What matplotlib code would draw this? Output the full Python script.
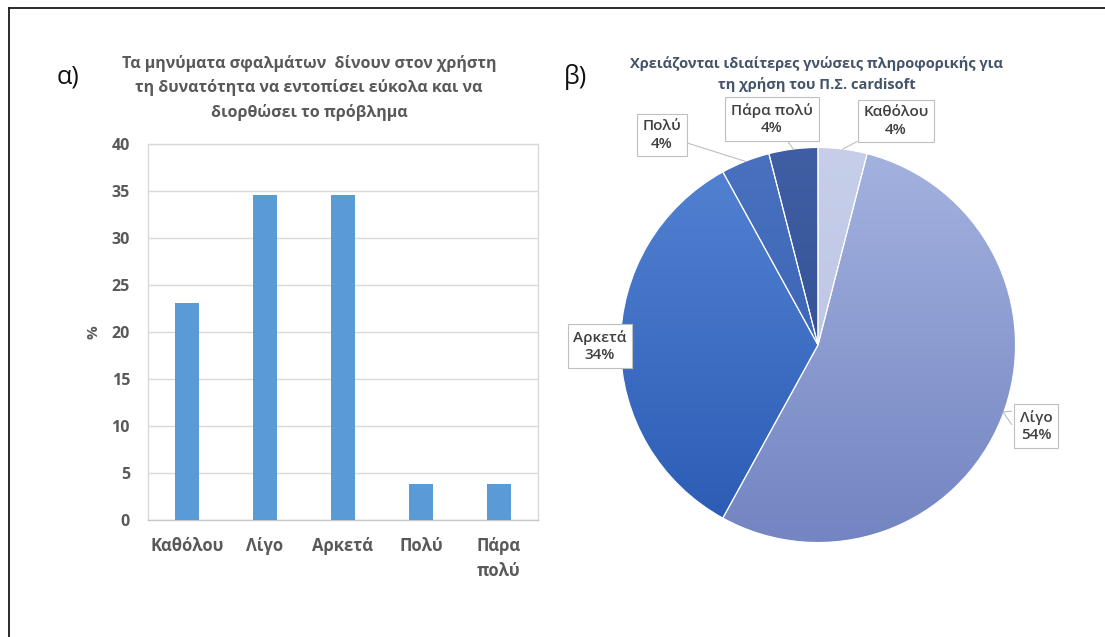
import matplotlib
matplotlib.use("Agg")
import matplotlib.pyplot as plt
import numpy as np
from matplotlib.lines import Line2D
from matplotlib.patches import Polygon
from matplotlib.colors import to_rgb

plt.rcParams['font.family'] = ['Open Sans', 'DejaVu Sans']

# ---- data ----
bar_categories = ["Καθόλου", "Λίγο", "Αρκετά", "Πολύ", "Πάρα\nπολύ"]
bar_values = [23.1, 34.6, 34.6, 3.8, 3.8]
bar_yticks = [0, 5, 10, 15, 20, 25, 30, 35, 40]
bar_title = "Τα μηνύματα σφαλμάτων  δίνουν στον χρήστη\nτη δυνατότητα να εντοπίσει εύκολα και να\nδιορθώσει το πρόβλημα"

pie_labels = ["Καθόλου", "Λίγο", "Αρκετά", "Πολύ", "Πάρα πολύ"]
pie_values = [4, 54, 34, 4, 4]
pie_title = "Χρειάζονται ιδιαίτερες γνώσεις πληροφορικής για\nτη χρήση του Π.Σ. cardisoft"

# vertical gradient (top, bottom) for each slice
pie_top_colors = ["#c6cee9", "#a3b2df", "#5483d3", "#4a71c0", "#405ea3"]
pie_bottom_colors = ["#b6c0e2", "#7385c2", "#2a5bb4", "#2f5dad", "#2b4a8c"]

W, H = 1105, 637
fig = plt.figure(figsize=(W / 100, H / 100), dpi=100)
fig.patch.set_facecolor("white")


def fx(px):
    return px / W


def fy(py):
    return 1 - py / H


# outer frame (top and left edges)
fig.add_artist(Line2D([fx(9), 1.0], [fy(8), fy(8)], color="#1a1a1a", lw=1.3,
                      transform=fig.transFigure))
fig.add_artist(Line2D([fx(9), fx(9)], [fy(8), 0.0], color="#1a1a1a", lw=1.3,
                      transform=fig.transFigure))

# ---- bar chart ----
ax = fig.add_axes([fx(148), fy(520), fx(538) - fx(148), fy(144) - fy(520)])
x = np.arange(len(bar_categories))
ax.bar(x, bar_values, width=0.32, color="#5b9bd5", zorder=3)
ax.set_xlim(-0.5, len(bar_categories) - 0.5)
ax.set_ylim(0, 40)
ax.set_yticks(bar_yticks)
ax.set_xticks(x)
ax.set_xticklabels(bar_categories, fontsize=12, fontweight="bold",
                   color="#595959", linespacing=1.5, va="top")
ax.tick_params(axis="x", length=0, pad=12)
ax.tick_params(axis="y", length=0, pad=13, labelsize=11.5, labelcolor="#595959")
for lbl in ax.get_yticklabels():
    lbl.set_fontweight("bold")
ax.yaxis.grid(True, color="#d9d9d9", lw=1.0, zorder=0)
for s in ax.spines.values():
    s.set_color("#d9d9d9")
    s.set_linewidth(1.0)
ax.spines["bottom"].set_color("#c8c8c8")
ax.set_ylabel("%", fontsize=11, fontweight="bold", color="#595959", labelpad=8)

fig.text(fx(309), fy(88), bar_title, ha="center", va="center", fontsize=11.5,
         fontweight="bold", color="#595959", linespacing=1.55)
fig.text(fx(68), fy(77), "α)", ha="center", va="center", fontsize=18, color="#111111")

# ---- pie chart ----
cx, cy, r = 818, 345, 197.5
pax = fig.add_axes([fx(cx - r), fy(cy + r), 2 * r / W, 2 * r / H])
wedges, _ = pax.pie(pie_values, startangle=90, counterclock=False, radius=1,
                    colors=pie_top_colors,
                    wedgeprops=dict(edgecolor="white", linewidth=0.8))

for w, ct, cb in zip(wedges, pie_top_colors, pie_bottom_colors):
    t = np.linspace(0, 1, 64)[:, None]
    grad = (1 - t) * np.array(to_rgb(ct)) + t * np.array(to_rgb(cb))
    img = pax.imshow(grad[:, None, :].repeat(2, axis=1), extent=(-1, 1, -1, 1),
                     origin="upper", interpolation="bilinear", zorder=0.5,
                     aspect="auto")
    img.set_clip_path(w)
    w.set_facecolor("none")
    w.set_zorder(1)
pax.set_xlim(-1, 1)
pax.set_ylim(-1, 1)
pax.set_aspect("equal")
pax.axis("off")


def to_data(px, py):
    return (px - cx) / r, (cy - py) / r


label_pos = [to_data(896, 121), to_data(1036, 426), to_data(600, 346),
             to_data(662, 135), to_data(772, 119)]
with_leader = [True, False, False, True, True]
box = dict(boxstyle="square,pad=0.38", fc="white", ec="#bfbfbf", lw=0.8)
for w, name, v, pos, lead in zip(wedges, pie_labels, pie_values, label_pos, with_leader):
    mid = np.deg2rad((w.theta1 + w.theta2) / 2)
    edge = (np.cos(mid), np.sin(mid))
    txt = f"{name}\n{v:.0f}%"
    kw = dict(ha="center", va="center", fontsize=11, color="#404040",
              fontweight="semibold", bbox=box, linespacing=1.3, zorder=5)
    if lead:
        pax.annotate(txt, xy=edge, xytext=pos,
                     arrowprops=dict(arrowstyle="-", color="#bfbfbf", lw=0.8,
                                     shrinkA=0, shrinkB=0),
                     annotation_clip=False, **kw)
    else:
        t = pax.text(pos[0], pos[1], txt, clip_on=False, **kw)

# small callout pointer on the label placed beside the large slice
lx, ly = to_data(1012, 418)
tip = to_data(1003, 412)
pax.add_patch(Polygon([(lx, ly + 0.035), tip, (lx, ly - 0.035)], closed=False,
                      fc="white", ec="#bfbfbf", lw=0.8, zorder=6, clip_on=False))

fig.text(fx(817), fy(74), pie_title, ha="center", va="center", fontsize=10.5,
         fontweight="bold", color="#44546a", linespacing=1.5)
fig.text(fx(575), fy(77), "β)", ha="center", va="center", fontsize=18, color="#111111")

fig.savefig("out.png", dpi=100, facecolor="white")
